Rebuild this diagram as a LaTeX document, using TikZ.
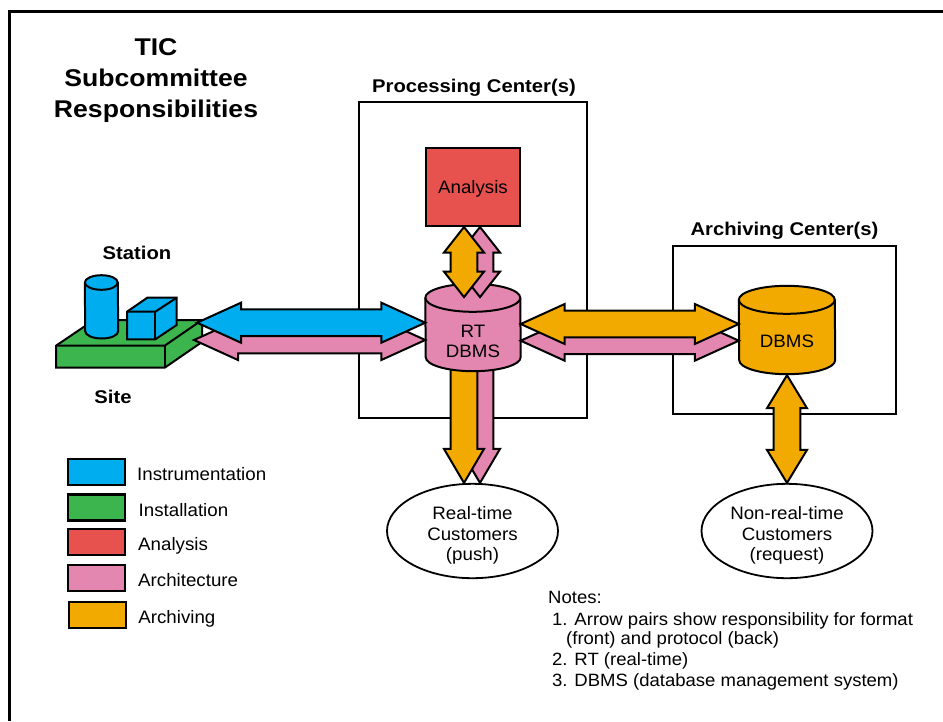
\documentclass[tikz,border=0pt]{standalone}
\usepackage{fontspec}
\setmainfont{Liberation Sans}[FakeStretch=1.04,BoldFeatures={FakeStretch=1.1}]
\usetikzlibrary{calc,positioning,shapes.geometric}
\definecolor{instrcol}{HTML}{00AEEF}
\definecolor{installcol}{HTML}{3DB54F}
\definecolor{analysiscol}{HTML}{E8524E}
\definecolor{archicol}{HTML}{E387B0}
\definecolor{archivecol}{HTML}{F3AA00}
\tikzset{
  blockline/.style={draw, line width=2pt, line join=miter},
  canbody/.style={inner sep=0pt},
  cantext/.style={inner sep=0pt, align=center, font=\fontsize{18}{20.5}\selectfont},
  centerbox/.style={draw, line width=1.6pt, minimum width=#1},
  swatch/.style={draw, line width=2.4pt, fill=#1, minimum width=57pt, minimum height=26pt, inner sep=0pt},
  swatchtext/.style={font=\fontsize{18}{20}\selectfont, inner sep=0pt},
  customer/.style={ellipse, draw, line width=1.8pt, fill=white, inner sep=0pt, minimum width=171pt, minimum height=91pt, align=center, font=\fontsize{18}{20.5}\selectfont},
  headline/.style={font=\bfseries\fontsize{18.4}{22}\selectfont, inner sep=0pt},
  notetext/.style={anchor=west, font=\fontsize{17.8}{20}\selectfont, inner sep=0pt}
}
% can round a body node: node, fill, radius across, radius of the end
\newcommand{\canshell}[4]{\draw[blockline, fill=#2] (#1.north west) arc[x radius=#3, y radius=#4, start angle=180, end angle=0]
  -- (#1.south east) arc[x radius=#3, y radius=#4, start angle=360, end angle=180] -- cycle;
  \draw[blockline] (#1.north west) arc[x radius=#3, y radius=#4, start angle=180, end angle=360];}
% block arrows: fill, from, to, head length
\newcommand{\hpair}[3]{\draw[blockline, fill=#1] let \p1=(#2), \p2=(#3) in
  (\p1) -- (\x1+44pt,\y1+20pt) -- (\x1+44pt,\y1+13.4pt) -- (\x2-44pt,\y1+13.4pt) -- (\x2-44pt,\y1+20pt) --
  (\x2,\y1) -- (\x2-44pt,\y1-20pt) -- (\x2-44pt,\y1-13.4pt) -- (\x1+44pt,\y1-13.4pt) -- (\x1+44pt,\y1-20pt) -- cycle;}
\newcommand{\vpair}[4]{\draw[blockline, fill=#1] let \p1=(#2), \p2=(#3) in
  (\p1) -- (\x1+20pt,\y1-#4) -- (\x1+13.4pt,\y1-#4) -- (\x1+13.4pt,\y2+#4) -- (\x1+20pt,\y2+#4) --
  (\x1,\y2) -- (\x1-20pt,\y2+#4) -- (\x1-13.4pt,\y2+#4) -- (\x1-13.4pt,\y1-#4) -- (\x1-20pt,\y1-#4) -- cycle;}
\newcommand{\vdown}[3]{\draw[blockline, fill=#1] let \p1=(#2), \p2=(#3) in
  (\x1-13.4pt,\y1) -- (\x1+13.4pt,\y1) -- (\x1+13.4pt,\y2+34pt) -- (\x1+20pt,\y2+34pt) --
  (\x1,\y2) -- (\x1-20pt,\y2+34pt) -- (\x1-13.4pt,\y2+34pt) -- cycle;}
\begin{document}
\begin{tikzpicture}[x=1pt,y=-1pt]
  \useasboundingbox (0,0) rectangle (943,721);
  % frame, only top and left
  \draw[line width=3pt] (9.5,721) -- (9.5,11.5) -- (943,11.5);
  % title
  \node[headline, font=\bfseries\fontsize{24.2}{31}\selectfont, align=center] (title) at (156,80.5) {TIC\\Subcommittee\\Responsibilities};
  % center boxes
  \node[centerbox=228pt, minimum height=316pt] (procbox) at (473,260) {};
  \node[centerbox=223pt, minimum height=168pt] (archbox) at (784.5,330) {};
  \node[headline] (proclabel) at (474,88) {Processing Center(s)};
  \node[headline] (archlabel) at (784.5,231) {Archiving Center(s)};
  \node[draw, line width=2pt, fill=analysiscol, minimum width=94pt, minimum height=78pt, inner sep=0pt, text height=17pt, text depth=4pt, font=\fontsize{18}{20}\selectfont] (analysis) at (473,187) {Analysis};
  % site
  \draw[blockline, fill=installcol] (56,345.7) -- (94,320) -- (202,320) -- (202,342) -- (164.7,367.7) -- (56,367.7) -- cycle;
  \draw[blockline] (56,345.7) -- (164.7,345.7) -- (202,320);
  \draw[blockline] (164.7,345.7) -- (164.7,367.7);
  \node[canbody, minimum width=33pt, minimum height=48.3pt] (statcan) at (101.5,306.85) {};
  \canshell{statcan}{instrcol}{16.5pt}{7.3pt}
  % kubik
  \draw[blockline, fill=instrcol] (127,311.7) -- (147.3,297.7) -- (176.7,297.7) -- (176.7,325) -- (155.3,339.3) -- (127,339.3) -- cycle;
  \draw[blockline] (127,311.7) -- (155.3,311.7) -- (176.7,297.7);
  \draw[blockline] (155.3,311.7) -- (155.3,339.3);
  \node[headline] (station) at (137,253) {Station};
  \node[headline] (site) at (113,397) {Site};
  % cans and customers
  \node[customer] (realtime) at (472.5,531) {\rule{0pt}{22pt}Real-time\\Customers\\(push)};
  \node[customer, minimum height=93pt] (nonreal) at (787,531) {\rule{0pt}{22pt}Non-real-time\\Customers\\(request)};
  \coordinate (rtfoot) at (473,360);
  \vdown{archicol}{[xshift=7pt]rtfoot}{[xshift=7.5pt]realtime.north}
  \vdown{archivecol}{[xshift=-9pt]rtfoot}{[xshift=-8.5pt]realtime.north}
  \node[canbody, minimum width=95pt, minimum height=59pt] (rtdbms) at (473,327.5) {};
  \canshell{rtdbms}{archicol}{47.5pt}{14pt}
  \node[cantext] (rtlabel) at ([yshift=-14pt]rtdbms.center) {RT\\DBMS};
  \node[canbody, minimum width=96pt, minimum height=60pt] (dbms) at (787,330) {};
  \canshell{dbms}{archivecol}{48pt}{14pt}
  \node[cantext] (dbmslabel) at ([yshift=-11pt]dbms.center) {DBMS};
  % arrow pairs
  \coordinate (sitecorner) at (197,322.7);
  \coordinate (siteback) at (194,340);
  \hpair{archicol}{siteback}{[yshift=-13pt]rtdbms.west}
  \hpair{instrcol}{sitecorner}{[yshift=4.5pt]rtdbms.west}
  \hpair{archicol}{[yshift=-13.2pt]rtdbms.east}{[yshift=-10.7pt]dbms.west}
  \hpair{archivecol}{[yshift=3.5pt]rtdbms.east}{[yshift=6pt]dbms.west}
  \vpair{archicol}{[xshift=7pt]analysis.south}{[xshift=7pt,yshift=0.7pt]rtdbms.north}{25.5pt}
  \vpair{archivecol}{[xshift=-9pt]analysis.south}{[xshift=-9pt,yshift=0.7pt]rtdbms.north}{25.5pt}
  \vpair{archivecol}{[yshift=-15pt]dbms.south}{nonreal.north}{33pt}
  % legend
  \node[swatch=instrcol] (leginstr) at (96.3,471.7) {};
  \node[swatch=installcol] (leginstall) at (96.3,507.3) {};
  \node[swatch=analysiscol] (leganalysis) at (96.3,541.8) {};
  \node[swatch=archicol] (legarchi) at (96.3,578) {};
  \node[swatch=archivecol] (legarchive) at (97.5,615.2) {};
  \node[swatchtext, right=11pt of leginstr, yshift=-2pt] {Instrumentation};
  \node[swatchtext, right=12.5pt of leginstall, yshift=-3pt] {Installation};
  \node[swatchtext, right=12pt of leganalysis, yshift=-4pt] {Analysis};
  \node[swatchtext, right=12pt of legarchi, yshift=-2pt] {Architecture};
  \node[swatchtext, right=11pt of legarchive, yshift=-4pt] {Archiving};
  % notes
  \node[notetext] (notes) at (548,597) {Notes:};
  \node[notetext] (noteone) at (552,621) {1. Arrow pairs show responsibility for format};
  \node[notetext] (noteonemore) at (566,640) {(front) and protocol (back)};
  \node[notetext] (notetwo) at (552,661) {2. RT (real-time)};
  \node[notetext] (notethree) at (552,682) {3. DBMS (database management system)};
\end{tikzpicture}
\end{document}
